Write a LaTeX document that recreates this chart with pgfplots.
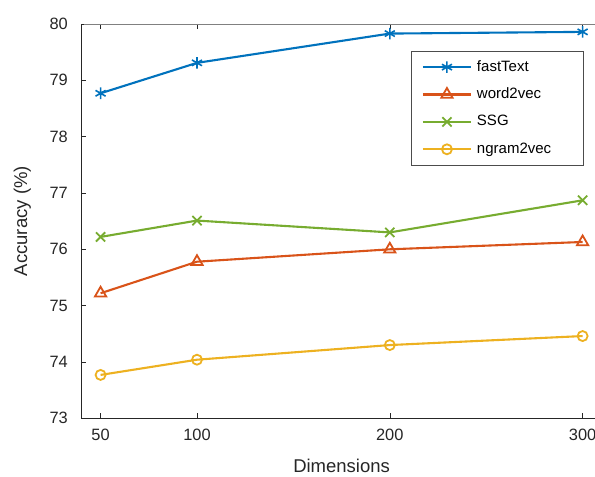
\documentclass[border=0pt]{standalone}
\usepackage{fontspec}
\setmainfont{Liberation Sans}
\usepackage{pgfplots}
\pgfplotsset{compat=1.18}
\definecolor{c1}{RGB}{0,114,189}
\definecolor{c2}{RGB}{217,83,25}
\definecolor{c3}{RGB}{119,172,48}
\definecolor{c4}{RGB}{237,177,32}
\definecolor{axc}{RGB}{38,38,38}
\begin{document}
\begin{tikzpicture}
\begin{axis}[
 scale only axis, width=520.6bp, height=394.3bp,
 xmin=40, xmax=310, ymin=73, ymax=80,
 xtick={50,100,200,300}, ytick={73,74,...,80},
 tick align=inside, major tick length=5bp,
 tick style={color=axc, line width=0.6bp},
 axis line style={axc, line width=0.8bp},
 /pgf/number format/assume math mode=true,
 ticklabel style={font=\fontsize{16.4bp}{19bp}\selectfont, text=axc},
 xticklabel style={yshift=-7bp},
 yticklabel style={xshift=-10bp},
 xlabel={Dimensions}, ylabel={Accuracy (\%)},
 label style={font=\fontsize{18.5bp}{22bp}\selectfont, text=axc},
 xlabel style={at={(axis description cs:0.5,-0.1218)}, anchor=center},
 ylabel style={at={(axis description cs:-0.1133,0.5)}, anchor=center},
 legend cell align=left,
 legend image code/.code={\draw[mark repeat=2, mark phase=2] plot coordinates {(0bp,0bp) (24bp,0bp) (48bp,0bp)};},
 legend style={at={(axis description cs:0.9656,0.932)}, anchor=north east,
   font=\fontsize{15bp}{18bp}\selectfont, text=black, draw=black!70, line width=0.6bp,
   nodes={inner sep=0pt, text height=11bp, text depth=3bp},
   row sep=13.4bp, column sep=5bp, inner xsep=10.7bp, inner ysep=9bp},
]
\addplot[draw=c1, line width=2.1bp, mark=asterisk, mark size=5.8bp, mark options={draw=c1, solid, line width=1.6bp}] coordinates {(50,78.77)(100,79.31)(200,79.83)(300,79.86)};
\addlegendentry{\makebox[96bp][l]{fastText}}
\addplot[draw=c2, line width=2.1bp, mark=triangle, mark size=6.5bp, mark options={draw=c2, solid, line width=1.8bp}] coordinates {(50,75.22)(100,75.78)(200,76.00)(300,76.13)};
\addlegendentry{word2vec}
\addplot[draw=c3, line width=2.1bp, mark=x, mark size=6.5bp, mark options={draw=c3, solid, line width=1.8bp}] coordinates {(50,76.22)(100,76.51)(200,76.30)(300,76.87)};
\addlegendentry{SSG}
\addplot[draw=c4, line width=2.1bp, mark=o, mark size=5bp, mark options={draw=c4, solid, line width=1.8bp}] coordinates {(50,73.77)(100,74.04)(200,74.30)(300,74.46)};
\addlegendentry{ngram2vec}
\end{axis}
\draw[black!50, line width=0.8bp] ([xshift=3bp]current axis.north west) -- (current axis.north east);
\pgfresetboundingbox
\path[use as bounding box] ([xshift=-81.3bp, yshift=-58.3bp]current axis.south west) rectangle ([xshift=-6.9bp, yshift=24bp]current axis.north east);
\end{tikzpicture}
\end{document}
